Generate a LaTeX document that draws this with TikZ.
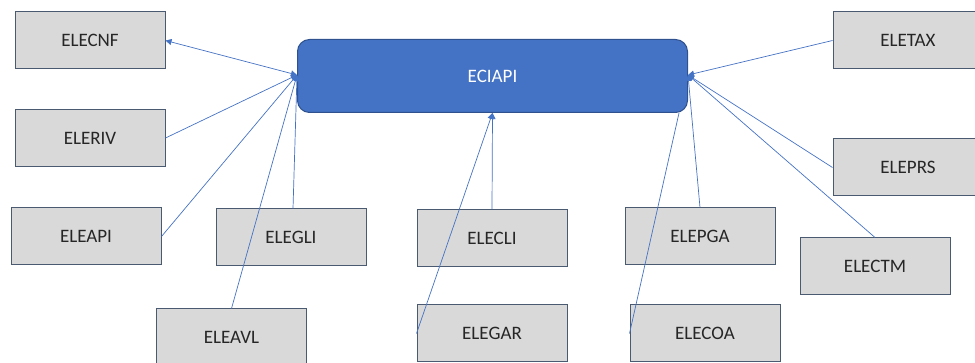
\documentclass[tikz,border=0pt]{standalone}
\usepackage{fontspec}
\setmainfont{Carlito}
\usetikzlibrary{arrows.meta}
\definecolor{boxfill}{HTML}{D9D9D9}
\definecolor{boxline}{HTML}{4A5A70}
\definecolor{apifill}{HTML}{4472C4}
\definecolor{apiline}{HTML}{2F528F}
\definecolor{conn}{HTML}{4472C4}
\tikzset{
  box/.style={draw=boxline, line width=1pt, fill=boxfill, minimum width=150pt, minimum height=57pt, inner sep=0pt, font=\fontsize{19}{22}\selectfont, text=black!85},
  apibox/.style={draw=apiline, line width=1pt, fill=apifill, rounded corners=12pt, minimum width=390pt, minimum height=73pt, inner sep=0pt, font=\fontsize{19}{22}\selectfont, text=white},
  link/.style={draw=conn, line width=0.7pt},
  arr/.style={link, -{Triangle[length=6pt,width=6pt]}},
  darr/.style={link, {Triangle[length=6pt,width=6pt]}-{Triangle[length=6pt,width=6pt]}}
}
\begin{document}
\begin{tikzpicture}[x=1pt,y=-1pt]
\useasboundingbox (0,0) rectangle (975,363);
\node[apibox] (api) at (492.5,76) {ECIAPI};
\node[box] (cnf) at (90,40.5) {ELECNF};
\node[box] (riv) at (90,138) {ELERIV};
\node[box] (eapi) at (86,236.5) {ELEAPI};
\node[box] (gli) at (291,237.5) {ELEGLI};
\node[box] (avl) at (231.5,337.5) {ELEAVL};
\node[box] (cli) at (492,238.5) {ELECLI};
\node[box] (gar) at (492,333.5) {ELEGAR};
\node[box] (pga) at (700,236.5) {ELEPGA};
\node[box] (coa) at (705,333.5) {ELECOA};
\node[box] (ctm) at (875,266.5) {ELECTM};
\node[box] (tax) at (908,40.5) {ELETAX};
\node[box] (prs) at (908,167.5) {ELEPRS};
\coordinate (apiL) at ([yshift=1pt]api.west);
\coordinate (apiR) at ([yshift=1pt]api.east);
\coordinate (apiB) at (api.south);
\coordinate (apiC) at ([xshift=-9pt]api.south east);
\draw[darr] (cnf.east) -- (apiL);
\draw[arr] (riv.east) -- (apiL);
\draw[arr] (eapi.east) -- (apiL);
\draw[arr] ([xshift=2pt]gli.north) -- (apiL);
\draw[arr] (avl.north) -- (apiL);
\draw[arr] (cli.north) -- (apiB);
\draw[arr] (gar.west) -- (apiB);
\draw[arr] (tax.west) -- (apiR);
\draw[arr] (prs.west) -- (apiR);
\draw[arr] (ctm.north) -- (apiR);
\draw[arr] (pga.north) -- (apiR);
\draw[link] (coa.west) -- (apiC);
\end{tikzpicture}
\end{document}
